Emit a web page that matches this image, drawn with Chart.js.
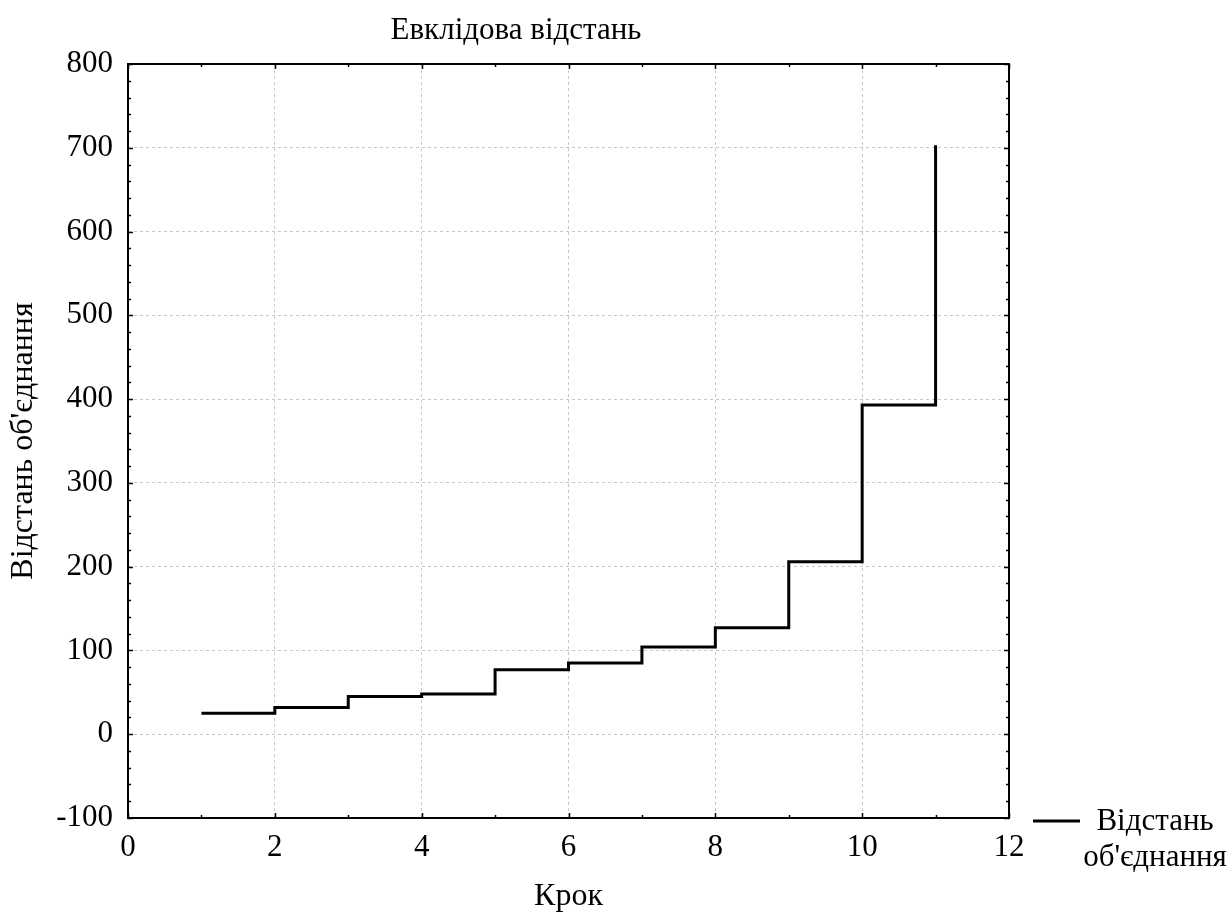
<!DOCTYPE html>
<html>
<head>
<meta charset="utf-8">
<script src="https://cdn.jsdelivr.net/npm/chart.js@4.4.0/dist/chart.umd.min.js"></script>
<style>
  html, body { margin: 0; padding: 0; background: #fff; }
  #wrap { width: 1230px; height: 914px; position: relative; }
</style>
</head>
<body>
<div id="wrap"><canvas id="c" width="1230" height="914"></canvas></div>
<script>
// ==== DATA ====
var steps = [1, 2, 3, 4, 5, 6, 7, 8, 9, 10, 11];
var distances = [25, 32, 45, 48, 77, 85, 104, 127, 206, 393, 703];
var seriesLabel = ['Відстань', "об'єднання"];
var chartTitle = 'Евклідова відстань';
var xTitle = 'Крок';
var yTitle = "Відстань об'єднання";

var FONT = '"Liberation Serif", "Times New Roman", serif';

// frame, short inner ticks and the legend on the right
var framePlugin = {
  id: 'frame',
  afterDraw: function (chart) {
    var ctx = chart.ctx, a = chart.chartArea;
    var xs = chart.scales.x, ys = chart.scales.y;
    ctx.save();
    ctx.strokeStyle = '#000';
    ctx.lineWidth = 2;
    ctx.strokeRect(a.left, a.top, a.right - a.left, a.bottom - a.top);

    ctx.lineWidth = 1.5;
    ctx.beginPath();
    for (var v = ys.min; v <= ys.max; v += 20) {
      var py = Math.round(ys.getPixelForValue(v)) + 0.5;
      var len = (v % 100 === 0) ? 5 : 3;
      ctx.moveTo(a.left, py); ctx.lineTo(a.left + len, py);
      ctx.moveTo(a.right, py); ctx.lineTo(a.right - len, py);
    }
    for (var u = xs.min; u <= xs.max; u += 1) {
      var px = Math.round(xs.getPixelForValue(u)) + 0.5;
      var l2 = (u % 2 === 0) ? 5 : 3;
      ctx.moveTo(px, a.bottom); ctx.lineTo(px, a.bottom - l2);
      ctx.moveTo(px, a.top); ctx.lineTo(px, a.top + l2);
    }
    ctx.stroke();

    // legend
    var ly = 821;
    ctx.lineWidth = 3;
    ctx.beginPath();
    ctx.moveTo(a.right + 24, ly); ctx.lineTo(a.right + 71, ly);
    ctx.stroke();
    ctx.fillStyle = '#000';
    ctx.font = '31px ' + FONT;
    ctx.textAlign = 'center';
    ctx.textBaseline = 'middle';
    ctx.fillText(seriesLabel[0], 1155, ly + 1);
    ctx.fillText(seriesLabel[1], 1155, ly + 37);
    ctx.restore();
  }
};

var points = steps.map(function (s, i) { return { x: s, y: distances[i] }; });

new Chart(document.getElementById('c').getContext('2d'), {
  type: 'line',
  data: {
    datasets: [{
      label: seriesLabel.join(' '),
      data: points,
      stepped: true,
      borderColor: '#000',
      borderWidth: 3,
      pointRadius: 0,
      fill: false
    }]
  },
  options: {
    responsive: false,
    animation: false,
    layout: { padding: { left: 23, right: 221, top: 0, bottom: 0 } },
    plugins: {
      legend: { display: false },
      tooltip: { enabled: false },
      title: {
        display: true,
        text: chartTitle,
        color: '#000',
        font: { family: FONT, size: 31, weight: 'normal', lineHeight: 1.2 },
        padding: { top: 12, bottom: 14.8 }
      }
    },
    scales: {
      x: {
        type: 'linear', min: 0, max: 12,
        afterFit: function (s) { s.height = 96; },
        ticks: { stepSize: 2, color: '#000', padding: 11, font: { family: FONT, size: 31 } },
        grid: { color: '#c8c8c8', lineWidth: 1, drawTicks: false },
        border: { display: false, dash: [3, 3] },
        title: { display: true, text: xTitle, color: '#000', padding: { top: 0, bottom: -2 }, font: { family: FONT, size: 32 } }
      },
      y: {
        min: -100, max: 800,
        afterFit: function (s) { s.width = 105; },
        ticks: { stepSize: 100, color: '#000', padding: 15, font: { family: FONT, size: 31 } },
        grid: { color: '#c8c8c8', lineWidth: 1, drawTicks: false },
        border: { display: false, dash: [3, 3] },
        title: { display: true, text: yTitle, color: '#000', padding: { top: -19, bottom: 0 }, font: { family: FONT, size: 32 } }
      }
    }
  },
  plugins: [framePlugin]
});
</script>
</body>
</html>
